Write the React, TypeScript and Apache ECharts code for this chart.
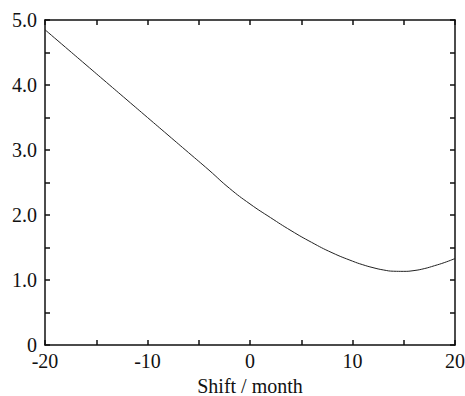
import React, { useEffect, useRef } from "react";
import * as echarts from "echarts";

const shiftMonths = [-20, -18, -16, -14, -12, -10, -8, -6, -4, -2, 0, 2, 4, 6, 8, 10, 11, 12, 13, 14, 15, 16, 17, 18, 19, 20];
const values = [4.85, 4.58, 4.31, 4.04, 3.77, 3.5, 3.23, 2.96, 2.69, 2.41, 2.17, 1.96, 1.76, 1.58, 1.42, 1.29, 1.235, 1.19, 1.155, 1.135, 1.133, 1.145, 1.175, 1.22, 1.27, 1.33];
const xName = "Shift / month";

const FONT = "'Liberation Serif', 'Times New Roman', serif";

export default function App() {
  const ref = useRef<HTMLDivElement>(null);
  useEffect(() => {
    if (!ref.current) return;
    const chart = echarts.init(ref.current, null, { renderer: "svg" });
    const axisLine = { show: true, onZero: false, lineStyle: { color: "#111", width: 1.5 } };
    const axisTick = { show: true, inside: true, length: 5, lineStyle: { color: "#111", width: 1.5 } };
    chart.setOption({
      animation: false,
      backgroundColor: "#fff",
      grid: { left: 45, right: 10, top: 20, bottom: 51, containLabel: false, outerBoundsMode: "none" },
      xAxis: [
        {
          type: "value",
          min: -20,
          max: 20,
          interval: 5,
          position: "bottom",
          name: xName,
          nameLocation: "middle",
          nameGap: 30,
          nameTextStyle: { fontFamily: FONT, fontSize: 20, color: "#111" },
          axisLine,
          axisTick,
          splitLine: { show: false },
          axisLabel: {
            fontFamily: FONT,
            fontSize: 20,
            color: "#111",
            margin: 6,
            formatter: (v: number) => (v % 10 === 0 ? String(v) : ""),
          },
        },
        {
          type: "value",
          min: -20,
          max: 20,
          interval: 5,
          position: "top",
          axisLine,
          axisTick,
          splitLine: { show: false },
          axisLabel: { show: false },
        },
      ],
      yAxis: [
        {
          type: "value",
          min: 0,
          max: 5,
          interval: 0.5,
          position: "left",
          axisLine,
          axisTick,
          splitLine: { show: false },
          axisLabel: {
            fontFamily: FONT,
            fontSize: 20,
            color: "#111",
            margin: 8,
            formatter: (v: number) => {
              if (Math.abs(v) < 1e-9) return "0";
              if (Math.abs(v - Math.round(v)) < 1e-9) return v.toFixed(1);
              return "";
            },
          },
        },
        {
          type: "value",
          min: 0,
          max: 5,
          interval: 0.5,
          position: "right",
          axisLine,
          axisTick,
          splitLine: { show: false },
          axisLabel: { show: false },
        },
      ],
      series: [
        {
          type: "line",
          data: shiftMonths.map((x, i) => [x, values[i]]),
          smooth: true,
          showSymbol: false,
          symbol: "none",
          lineStyle: { color: "#222", width: 1 },
        },
      ],
    });
    return () => chart.dispose();
  }, []);
  return <div ref={ref} style={{ position: "absolute", left: 0, top: 0, width: 465, height: 396 }} />;
}
